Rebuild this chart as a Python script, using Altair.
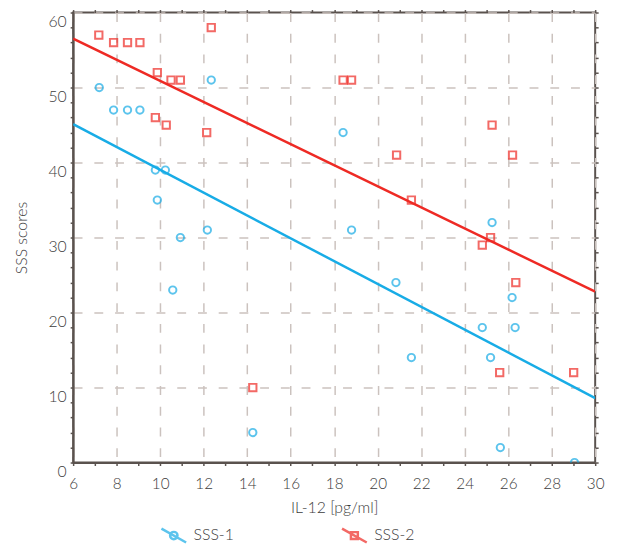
import altair as alt
import pandas as pd

# ---- data ----
sss1_x = [7.2, 7.86, 8.5, 9.07, 9.78, 10.24, 9.87, 10.93, 12.17, 12.35, 10.58, 14.26,
          18.41, 18.8, 25.26, 20.84, 21.55, 24.81, 25.19, 26.18, 26.32, 25.64, 29.05]
sss1_y = [50, 47, 47, 47, 39, 39, 35, 30, 31, 51, 23, 4,
          44, 31, 32, 24, 14, 18, 14, 22, 18, 2, 0]
sss2_x = [7.18, 7.86, 8.5, 9.07, 12.35, 9.87, 10.5, 10.93, 9.78, 10.28, 12.14, 14.26,
          18.41, 18.8, 20.87, 21.55, 25.26, 26.2, 25.19, 24.81, 26.35, 25.61, 29.01]
sss2_y = [57, 56, 56, 56, 58, 52, 51, 51, 46, 45, 44, 10,
          51, 51, 41, 35, 45, 41, 30, 29, 24, 12, 12]
series = ["SSS-1", "SSS-2"]
colors = ["#18ace6", "#ee2a24"]
x_ticks = list(range(6, 31))
y_ticks = list(range(0, 61, 2))

df = pd.concat([
    pd.DataFrame({"x": sss1_x, "y": sss1_y, "series": series[0]}),
    pd.DataFrame({"x": sss2_x, "y": sss2_y, "series": series[1]}),
], ignore_index=True)

FONT = "Lato"
TXT = "#3c3c3c"
FRAME = "#5a524e"
GRID = "#cbc2be"

# legend symbols: slanted line with the series marker
sym1 = "M-1,-0.56L1,0.56M0.3,0A0.3,0.3,0,1,1,-0.3,0A0.3,0.3,0,1,1,0.3,0"
sym2 = "M-1,-0.56L1,0.56M-0.28,-0.28H0.28V0.28H-0.28Z"

xs = alt.Scale(domain=[6, 30], nice=False, zero=False)
ys = alt.Scale(domain=[0, 60], nice=False)

x_axis = alt.Axis(
    values=x_ticks, title="IL-12 [pg/ml]", orient="bottom", grid=True,
    labelExpr="datum.value % 2 === 0 ? datum.label : ''",
    labelFlush=False, labelOverlap=False,
    gridOpacity={"condition": {"test": "datum.value % 2 === 0", "value": 1}, "value": 0},
    labelPadding=18, labelBaseline="middle",
    titleY=46, titleBaseline="middle",
)
y_axis = alt.Axis(
    values=y_ticks, title="SSS scores", orient="left", grid=True,
    labelExpr="datum.value % 10 === 0 ? datum.label : ''",
    labelOverlap=False, labelFlush=False,
    gridOpacity={"condition": {"test": "datum.value % 10 === 0", "value": 1}, "value": 0},
    labelPadding=4, labelOffset=9, labelFontSize=16,
    titleX=-52, titleY=228, titleAngle=270, titleBaseline="middle", titleAlign="center",
)

legend = alt.Legend(
    title=None, orient="none", direction="horizontal",
    legendX=88, legendY=516,
    symbolSize=625, symbolStrokeWidth=2.5, labelOffset=6, columnPadding=104,
    labelFontSize=16, labelFont=FONT, labelColor=TXT, labelFontWeight=300,
    labelExpr="datum.value === 'SSS-2' ? '\u2007\u2007' + datum.label : datum.label",
)

base = alt.Chart(df)


def pts(i, shape, axes):
    return base.transform_filter(alt.datum.series == series[i]).mark_point(
        shape=shape, filled=False, size=55, strokeWidth=2, clip=True, color=colors[i]
    ).encode(
        x=alt.X("x:Q", scale=xs, axis=x_axis if axes else None),
        y=alt.Y("y:Q", scale=ys, axis=y_axis if axes else None),
    )


def fit(i):
    return base.transform_filter(alt.datum.series == series[i]).transform_regression(
        "x", "y", extent=[6, 30]
    ).mark_line(strokeWidth=2.5, clip=True, color=colors[i]).encode(
        x=alt.X("x:Q", scale=xs, axis=None),
        y=alt.Y("y:Q", scale=ys, axis=None),
    )


# legend-only layer: its marks sit outside the clipped plot, only its legend shows
legend_layer = base.transform_calculate(yoff="-100").mark_point(
    filled=False, strokeWidth=2, clip=True
).encode(
    x=alt.X("x:Q", scale=xs, axis=None),
    y=alt.Y("yoff:Q", scale=ys, axis=None),
    color=alt.Color("series:N", scale=alt.Scale(domain=series, range=colors), legend=legend),
    shape=alt.Shape("series:N", scale=alt.Scale(domain=series, range=[sym1, sym2]), legend=legend),
)

frame_ticks = base.mark_point(opacity=0).encode(
    x=alt.X("x:Q", scale=xs, axis=alt.Axis(orient="top", values=x_ticks, labels=False,
                                           grid=False, domain=False, title=None, tickSize=3)),
    y=alt.Y("y:Q", scale=ys, axis=alt.Axis(orient="right", values=y_ticks, labels=False,
                                           grid=False, domain=False, title=None, tickSize=3)),
)

chart = alt.layer(
    pts(0, "circle", True), pts(1, "square", False), fit(0), fit(1), legend_layer, frame_ticks
).resolve_axis(
    x="independent", y="independent"
).properties(
    width=529, height=456,
    autosize=alt.AutoSizeParams(type="none"),
    padding={"left": 66, "top": 1, "right": 14, "bottom": 82},
    background="white",
).configure_view(
    stroke=FRAME, strokeWidth=2,
).configure_axis(
    labelFont=FONT, titleFont=FONT, labelColor=TXT, titleColor=TXT,
    labelFontSize=15.5, titleFontSize=16, labelFontWeight=300, titleFontWeight=300,
    domainColor=FRAME, domainWidth=2, tickColor=FRAME, tickSize=3, tickWidth=1.5,
    gridColor=GRID, gridDash=[9, 12], gridWidth=1.5,
)

chart.save("out.html", embed_options={"renderer": "svg", "actions": False})
